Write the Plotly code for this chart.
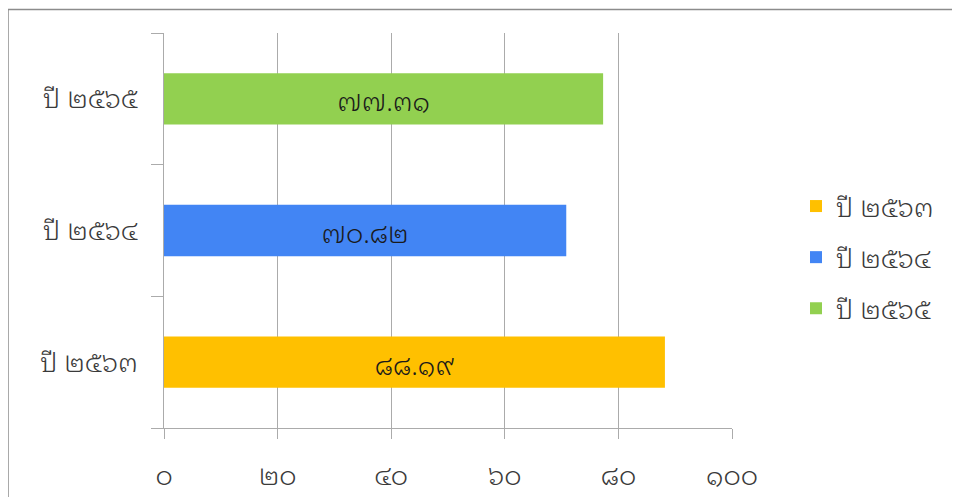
import plotly.graph_objects as go

years = ["ปี ๒๕๖๓", "ปี ๒๕๖๔", "ปี ๒๕๖๕"]
values = [88.19, 70.82, 77.31]
colors = ["#FFC000", "#4285F4", "#92D050"]
x_tickvals = [0, 20, 40, 60, 80, 100]

THAI = str.maketrans("0123456789", "๐๑๒๓๔๕๖๗๘๙")


def thai(s):
    return str(s).translate(THAI)


FONT = "Noto Sans Thai Looped, Tahoma, Loma, Garuda, Noto Sans Thai, Noto Sans, DejaVu Sans, sans-serif"
FS = 27

fig = go.Figure()
for i, (yr, v, c) in enumerate(zip(years, values, colors)):
    fig.add_trace(go.Bar(
        y=[yr], x=[v], name=yr, orientation="h",
        marker=dict(color=c, line=dict(width=0)),
        width=0.39,
        text=[thai(f"{v:.2f}")], textposition="inside",
        insidetextanchor="middle", textangle=0,
        textfont=dict(color="#1a1a1a", size=FS, family=FONT, weight=300),
        legendgroup=f"g{i}",
        hoverinfo="x+name",
    ))

OFF = 8  # page body margin
W, H = 960 - OFF, 497 - OFF
L, R, T, B = 164 - OFF, 960 - 732, 33 - OFF, 497 - 428
pw, ph = W - L - R, H - T - B


def px_x(x):
    return (x - OFF - L) / pw


def px_y(y):
    return 1 + (T - (y - OFF)) / ph


fig.update_layout(
    width=W, height=H,
    margin=dict(l=L, r=R, t=T, b=B, autoexpand=False),
    barmode="overlay",
    plot_bgcolor="white", paper_bgcolor="white",
    font=dict(family=FONT, size=FS, color="#3a3a3a", weight=300),
    showlegend=True,
    legend=dict(
        x=px_x(796), y=px_y(182), xanchor="left", yanchor="top",
        traceorder="grouped", tracegroupgap=13,
        font=dict(size=FS, color="#3a3a3a", weight=300),
        bgcolor="rgba(0,0,0,0)",
    ),
    xaxis=dict(
        range=[0, 100], tickvals=x_tickvals,
        ticktext=[thai(v) for v in x_tickvals],
        showgrid=True, gridcolor="#ababab", gridwidth=1,
        zeroline=False,
        showline=True, linecolor="#ababab", linewidth=1,
        ticks="outside", ticklen=10, tickcolor="#ababab", tickwidth=1,
        ticklabelstandoff=14,
        fixedrange=True,
    ),
    yaxis=dict(
        type="category", categoryorder="array", categoryarray=years,
        range=[-0.5, 2.5],
        tickson="boundaries",
        showgrid=False, zeroline=False,
        showline=True, linecolor="#ababab", linewidth=1,
        ticks="outside", ticklen=12, tickcolor="#ababab", tickwidth=1,
        ticklabelstandoff=20,
        fixedrange=True,
    ),
    shapes=[
        dict(type="line", xref="paper", yref="paper",
             x0=px_x(8), x1=px_x(8), y0=px_y(9.5), y1=px_y(497),
             line=dict(color="#8c8c8c", width=1.5)),
        dict(type="line", xref="paper", yref="paper",
             x0=px_x(8), x1=px_x(960), y0=px_y(9.5), y1=px_y(9.5),
             line=dict(color="#8c8c8c", width=1.5)),
    ],
)

fig.write_html("out.html")
